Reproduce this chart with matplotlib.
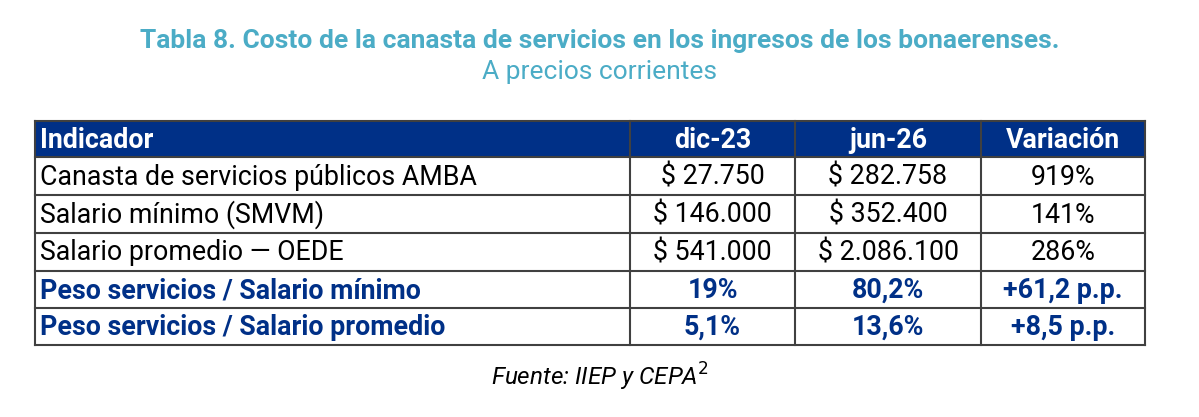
import matplotlib.pyplot as plt
from matplotlib.patches import Rectangle

plt.rcParams['font.family'] = ['Roboto', 'DejaVu Sans']

title = "Tabla 8. Costo de la canasta de servicios en los ingresos de los bonaerenses."
subtitle = "A precios corrientes"
source = "Fuente: IIEP y CEPA$^{2}$"

header = ["Indicador", "dic-23", "jun-26", "Variación"]
indicators = ["Canasta de servicios públicos AMBA",
              "Salario mínimo (SMVM)",
              "Salario promedio \u2014 OEDE",
              "Peso servicios / Salario mínimo",
              "Peso servicios / Salario promedio"]
dic23 = ["$ 27.750", "$ 146.000", "$ 541.000", "19%", "5,1%"]
jun26 = ["$ 282.758", "$ 352.400", "$ 2.086.100", "80,2%", "13,6%"]
variacion = ["919%", "141%", "286%", "+61,2 p.p.", "+8,5 p.p."]
highlight = [False, False, False, True, True]

teal = '#4bacc6'
navy = '#003087'
line_c = '#404040'

# layout in pixels
col_x = [35, 630, 795, 981, 1145]
row_y = [121, 157, 195, 233, 271, 308, 345]
fs = 19.3

fig = plt.figure(figsize=(11.99, 4.17), dpi=100)
ax = fig.add_axes([0, 0, 1, 1])
ax.set_xlim(0, 1199)
ax.set_ylim(417, 0)
ax.axis('off')

fig.text(0.5, 1 - 41/417, title, ha='center', va='center', fontsize=19,
         fontweight='bold', color=teal)
fig.text(0.5, 1 - 72/417, subtitle, ha='center', va='center', fontsize=19,
         color=teal)

# header band
ax.add_patch(Rectangle((col_x[0], row_y[0]), col_x[-1] - col_x[0], row_y[1] - row_y[0],
                       facecolor=navy, edgecolor='none'))

rows = [header] + [[indicators[i], dic23[i], jun26[i], variacion[i]] for i in range(len(indicators))]
styles = [('white', 'bold')] + [((navy, 'bold') if h else ('black', 'normal')) for h in highlight]

for r, (cells, (color, weight)) in enumerate(zip(rows, styles)):
    yc = (row_y[r] + row_y[r + 1]) / 2 + 1
    for c, txt in enumerate(cells):
        if c == 0:
            ax.text(col_x[0] + 5, yc, txt, ha='left', va='center', fontsize=fs,
                    color=color, fontweight=weight)
        else:
            ax.text((col_x[c] + col_x[c + 1]) / 2, yc, txt, ha='center', va='center',
                    fontsize=fs, color=color, fontweight=weight)

# grid lines
for y in row_y:
    ax.plot([col_x[0], col_x[-1]], [y, y], color=line_c, lw=1.5, solid_capstyle='projecting')
for x in col_x:
    ax.plot([x, x], [row_y[0], row_y[-1]], color=line_c, lw=1.5, solid_capstyle='projecting')

fig.text(0.5, 1 - 377/417, source, ha='center', va='center', fontsize=17.5,
         fontstyle='italic', color='black')

fig.savefig('out.png', dpi=100)
